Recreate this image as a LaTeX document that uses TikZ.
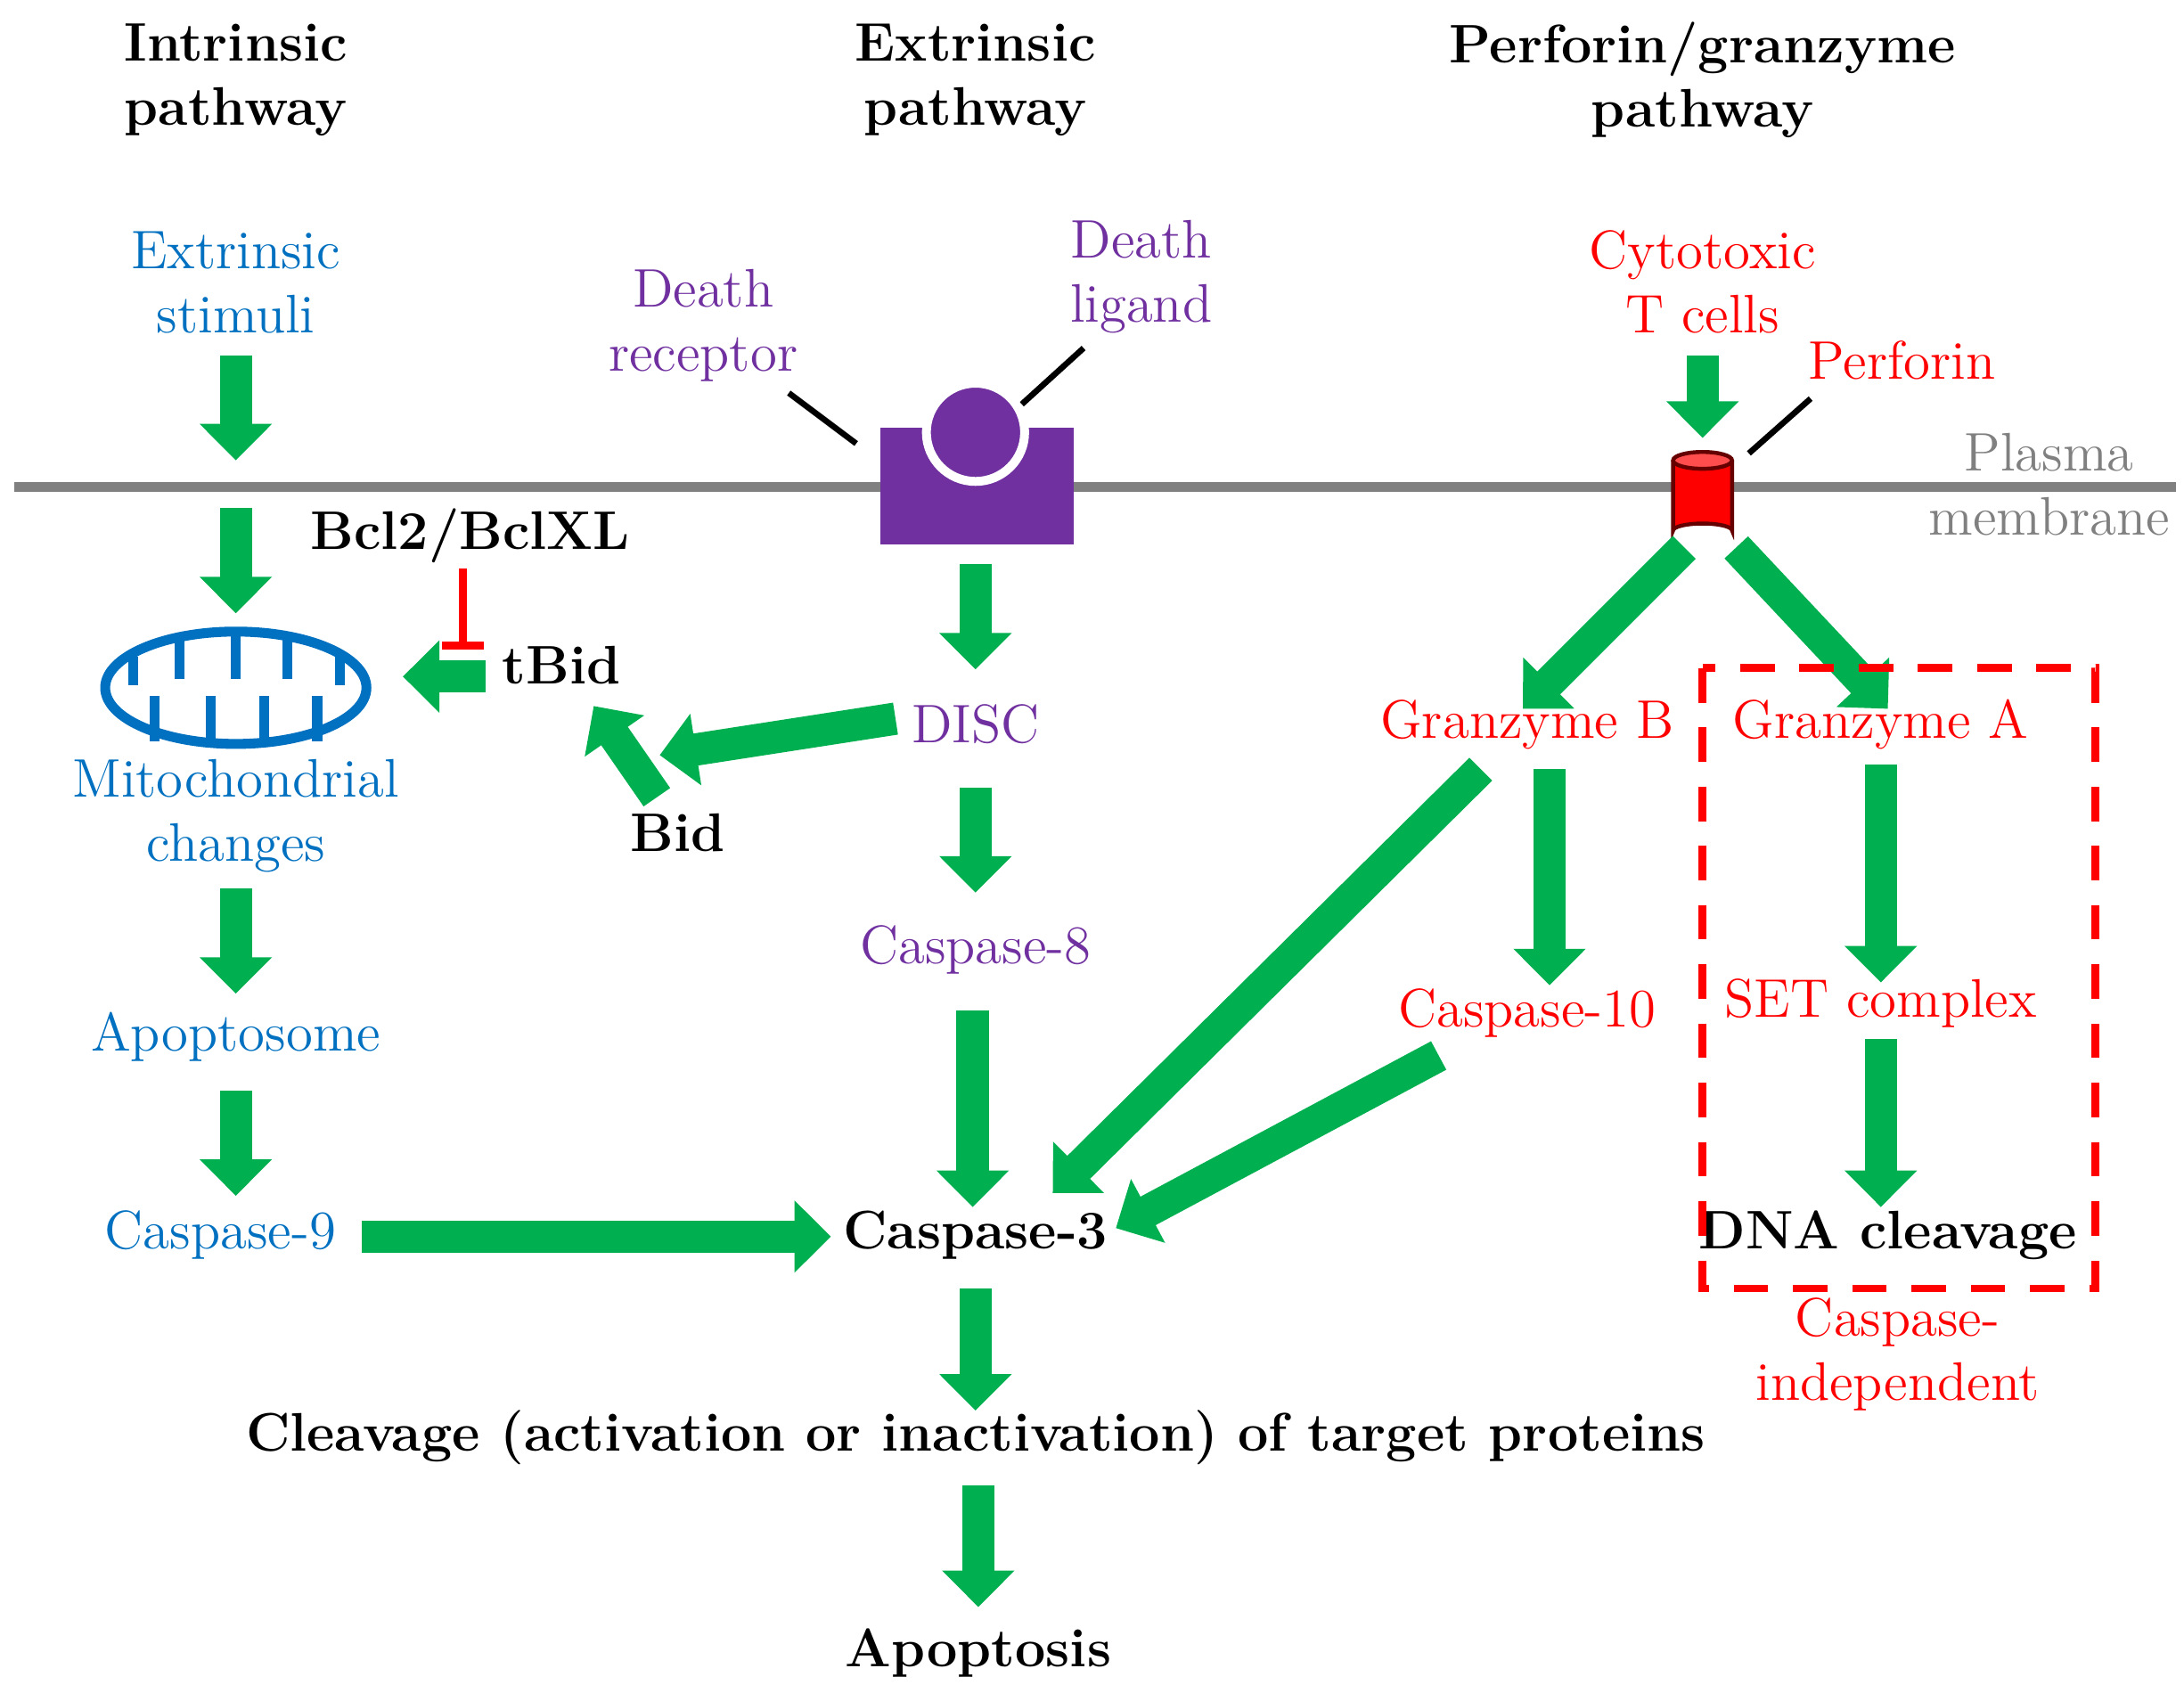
\documentclass[tikz,border=0pt]{standalone}
\usetikzlibrary{arrows.meta,shapes.geometric}
\definecolor{gar}{RGB}{0,176,80}
\definecolor{blu}{RGB}{0,112,192}
\definecolor{pur}{RGB}{112,48,160}
\definecolor{rd}{RGB}{255,0,0}
\definecolor{gry}{RGB}{128,128,128}
\begin{document}
\begin{tikzpicture}[x=0.01cm,y=-0.01cm,
 fa/.style={draw=gar,line width=0.23cm,-{Triangle[width=0.5cm,length=0.26cm]}},
 t/.style={font=\fontsize{11}{13}\selectfont,align=center,inner sep=0pt},
 b/.style={t,font=\fontsize{11}{13}\selectfont\bfseries},
 pl/.style={line width=1.2pt}]
\useasboundingbox (0,0) rectangle (1556,1206);
% titles
\node[b] (t1) at (168,57) {Intrinsic\\pathway};
\node[b] (t2) at (695,57) {Extrinsic\\pathway};
\node[b] (t3) at (1213,57) {Perforin/granzyme\\pathway};
% membrane
\coordinate (m1) at (10,347); \coordinate (m2) at (1550,347);
\draw[gry,line width=2pt] (m1)--(m2);
\node[t,text=gry] (pm) at (1460,345) {Plasma\\membrane};
% intrinsic
\node[t,text=blu] (es) at (168,201) {Extrinsic\\stimuli};
\coordinate (a1) at (168,253); \coordinate (a2) at (168,328);
\draw[fa] (a1)--(a2);
\coordinate (a3) at (168,362); \coordinate (a4) at (168,437);
\draw[fa] (a3)--(a4);
\node[draw=blu,line width=2pt,ellipse,minimum width=1.86cm,minimum height=0.8cm,inner sep=0pt] (mito) at (168,490) {};
\foreach \x in {128,168,205} \draw[blu,line width=2pt] (\x,452)--(\x,484);
\foreach \x in {110,150,188,226} \draw[blu,line width=2pt] (\x,528)--(\x,496);
\foreach \x in {95,242} \draw[blu,line width=2pt] (\x,468)--(\x,488);
\node[t,text=blu] (mc) at (168,581) {Mitochondrial\\changes};
\coordinate (a5) at (168,633); \coordinate (a6) at (168,708);
\draw[fa] (a5)--(a6);
\node[t,text=blu] (apo) at (168,739) {Apoptosome};
\coordinate (a7) at (168,777); \coordinate (a8) at (168,852);
\draw[fa] (a7)--(a8);
\node[t,text=blu] (c9) at (157,880) {Caspase-9};
\node[b] (c3) at (695,880) {Caspase-3};
\coordinate (h1) at (258,881); \coordinate (h2) at (592,881);
\draw[fa] (h1)--(h2);
% extrinsic
\fill[pur] (627,305) rectangle (765,388);
\draw[white,line width=1.8pt,fill=pur] (695,308) circle (35);
\node[t,text=pur] (dr) at (501,232) {Death\\receptor};
\node[t,text=pur] (dl) at (813,197) {Death\\ligand};
\coordinate (l1) at (562,280); \coordinate (l2) at (610,316);
\draw[pl] (l1)--(l2);
\coordinate (l3) at (728,288); \coordinate (l4) at (772,248);
\draw[pl] (l3)--(l4);
\coordinate (e1) at (695,402); \coordinate (e2) at (695,477);
\draw[fa] (e1)--(e2);
\node[t,text=pur] (disc) at (695,516) {DISC};
\coordinate (e3) at (695,561); \coordinate (e4) at (695,636);
\draw[fa] (e3)--(e4);
\node[t,text=pur] (c8) at (695,677) {Caspase-8};
\coordinate (e5) at (693,720); \coordinate (e6) at (693,860);
\draw[fa] (e5)--(e6);
\coordinate (d1) at (638,512); \coordinate (d2) at (470,538);
\draw[fa] (d1)--(d2);
\node[b] (bid) at (483,593) {Bid};
\coordinate (b1) at (468,568); \coordinate (b2) at (423,503);
\draw[fa] (b1)--(b2);
\node[b] (tbid) at (400,474) {tBid};
\coordinate (tb1) at (346,482); \coordinate (tb2) at (287,482);
\draw[fa] (tb1)--(tb2);
\node[b] (bcl) at (335,382) {Bcl2/BclXL};
\coordinate (i1) at (330,405); \coordinate (i2) at (330,460);
\draw[rd,line width=1.6pt] (i1)--(i2);
\draw[rd,line width=1.6pt] (315,460)--(345,460);
% perforin
\node[t,text=rd] (ctl) at (1213,201) {Cytotoxic\\T cells};
\coordinate (p1) at (1213,253); \coordinate (p2) at (1213,312);
\draw[fa] (p1)--(p2);
\node[t,text=rd] (perf) at (1355,257) {Perforin};
\coordinate (l5) at (1290,284); \coordinate (l6) at (1246,323);
\draw[pl] (l5)--(l6);
\draw[draw=black!60!red,fill=rd,line width=0.8pt] (1192,328) -- (1192,378) arc[start angle=180,end angle=360,x radius=21,y radius=5] -- (1234,328);
\draw[draw=black!60!red,fill=rd!70!white,line width=0.8pt] (1213,328) ellipse [x radius=21,y radius=6];
\coordinate (g1) at (1200,390); \coordinate (g2) at (1085,505);
\draw[fa] (g1)--(g2);
\coordinate (g3) at (1237,390); \coordinate (g4) at (1345,505);
\draw[fa] (g3)--(g4);
\node[t,text=rd] (gb) at (1088,516) {Granzyme B};
\node[t,text=rd] (ga) at (1340,516) {Granzyme A};
\coordinate (g5) at (1104,548); \coordinate (g6) at (1104,702);
\draw[fa] (g5)--(g6);
\node[t,text=rd] (c10) at (1088,722) {Caspase-10};
\coordinate (g7) at (1055,548); \coordinate (g8) at (750,850);
\draw[fa] (g7)--(g8);
\coordinate (g9) at (1025,752); \coordinate (g10) at (795,875);
\draw[fa] (g9)--(g10);
\coordinate (s1) at (1340,545); \coordinate (s2) at (1340,700);
\draw[fa] (s1)--(s2);
\node[t,text=rd] (set) at (1340,715) {SET complex};
\coordinate (s3) at (1340,740); \coordinate (s4) at (1340,860);
\draw[fa] (s3)--(s4);
\node[b] (dna) at (1345,880) {DNA cleavage};
\draw[rd,line width=1.6pt,dash pattern=on 7pt off 5pt] (1213,476) rectangle (1493,918);
\node[t,text=rd] (ci) at (1352,965) {Caspase-\\independent};
% bottom
\coordinate (z1) at (695,918); \coordinate (z2) at (695,1005);
\draw[fa] (z1)--(z2);
\node[b] (clv) at (695,1024) {Cleavage (activation or inactivation) of target proteins};
\coordinate (z3) at (697,1058); \coordinate (z4) at (697,1145);
\draw[fa] (z3)--(z4);
\node[b] (apop) at (697,1178) {Apoptosis};
\end{tikzpicture}
\end{document}
